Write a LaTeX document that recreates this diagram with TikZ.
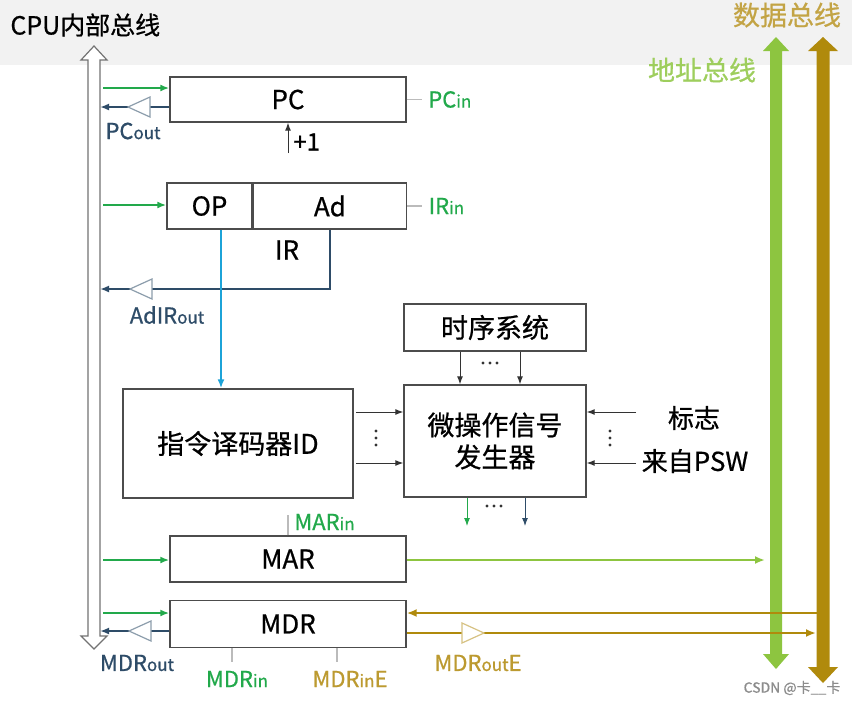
\documentclass[tikz,border=0pt]{standalone}
\usepackage{fontspec}
\setmainfont{Noto Sans CJK SC}[FakeBold=0.7]
\usetikzlibrary{positioning,arrows.meta}

\definecolor{busgreen}{HTML}{8DC540}
\definecolor{busolive}{HTML}{B08A0C}
\definecolor{sigolive}{HTML}{BC9A30}
\definecolor{ingreen}{HTML}{22A94B}
\definecolor{outblue}{HTML}{2E4C68}
\definecolor{opcyan}{HTML}{1CA3D8}
\definecolor{tickgray}{HTML}{BBBBBB}

\newcommand{\sig}[3]{#1{\fontsize{8.5}{9}\selectfont #2}#3}

\begin{document}
\begin{tikzpicture}[x=0.5pt,y=-0.5pt,
    reg/.style={draw=black!70,line width=0.7pt,fill=white,inner sep=0pt,font=\fontsize{13}{15}\selectfont},
    unit/.style={draw=black!70,line width=0.7pt,fill=white,inner sep=0pt,align=center,font=\fontsize{13.5}{16}\selectfont},
    lbl/.style={inner sep=0pt,font=\fontsize{11}{13}\selectfont},
    inarrow/.style={draw=ingreen,line width=1pt,-{Latex[length=4.5pt,width=3.5pt]}},
    outarrow/.style={draw=outblue,line width=1.2pt,-{Latex[length=4.5pt,width=3.5pt]}},
    datarrow/.style={draw=busolive,line width=1.4pt,-{Latex[length=5pt,width=4pt]}},
    ctrl/.style={draw=black!80,line width=0.5pt,-{Latex[length=4pt,width=3pt]}},
    tick/.style={draw=tickgray,line width=0.6pt},
    buf/.pic={\draw[line width=0.6pt,fill=white] (0,0) -- (22,-10) -- (22,10) -- cycle;}
]
% background
\useasboundingbox (0,0) rectangle (852,703);
\fill[white] (0,0) rectangle (852,703);
\fill[black!5] (0,0) rectangle (852,65);

% buses
\draw[draw=black!55,line width=0.6pt,fill=white]
  (88,60) -- (81,60) -- (94,46) -- (107,60) -- (100,60) -- (100,636)
  -- (107,636) -- (94,649) -- (81,636) -- (88,636) -- cycle;
\fill[busgreen] (770,51) -- (763,51) -- (776,37) -- (789,51) -- (782,51) -- (782,654)
  -- (789,654) -- (776,669) -- (763,654) -- (770,654) -- cycle;
\fill[busolive] (816.5,51) -- (808,51) -- (823,37) -- (838,51) -- (829.5,51) -- (829.5,667)
  -- (838,667) -- (823,683) -- (808,667) -- (816.5,667) -- cycle;

\node[anchor=west,inner sep=0pt,font=\fontsize{12.5}{14}\selectfont] (cpubus) at (10,25) {CPU内部总线};
\node[inner sep=0pt,text=busgreen!85,font=\fontsize{13.5}{15}\selectfont] (abusl) at (702,70) {地址总线};
\node[inner sep=0pt,text=sigolive!90,font=\fontsize{13.5}{15}\selectfont] (dbusl) at (787,15) {数据总线};

% registers
\node[reg,minimum width=118pt,minimum height=22.5pt] (pc) at (288,99.5) {PC};
\node[reg,minimum width=42.5pt,minimum height=23pt] (op) at (209.5,206) {OP};
\node[reg,minimum width=76.5pt,minimum height=23pt,right=0pt of op] (ad) {Ad};
\node[inner sep=0pt,font=\fontsize{13}{15}\selectfont] (irl) at (287,250) {IR};
\node[unit,minimum width=115pt,minimum height=54.5pt] (id) at (238,443.5) {指令译码器ID};
\node[unit,minimum width=91pt,minimum height=23.5pt] (timing) at (495,327.5) {时序系统};
\node[unit,minimum width=91pt,minimum height=56pt] (mog) at (495,441) {微操作信号\\发生器};
\node[reg,minimum width=118pt,minimum height=23pt] (mar) at (288,559) {MAR};
\node[reg,minimum width=118pt,minimum height=23.5pt,below=8.5pt of mar] (mdr) {MDR};

% bus connection points
\coordinate (pcin) at (103,88);
\coordinate (pcout) at (100,107);
\coordinate (irin) at (103,205);
\coordinate (adout) at (100,289);
\coordinate (marin) at (103,560);
\coordinate (mdrin) at (103,613);
\coordinate (mdrout) at (100,631);
\coordinate (abus) at (765,560);
\coordinate (dbusin) at (817,613);
\coordinate (dbusout) at (816,633);

% CPU internal bus transfers
\draw[inarrow] (pcin) -- (pcin -| pc.west);
\draw[outarrow] (pcout -| pc.west) -- (pcout);
\pic[draw=outblue!55] at (128,107) {buf};
\draw[inarrow] (irin) -- (irin -| op.west);
\draw[outarrow] (ad.south) |- (adout);
\pic[draw=outblue!55] at (130,289) {buf};
\draw[inarrow] (marin) -- (marin -| mar.west);
\draw[inarrow] (mdrin) -- (mdrin -| mdr.west);
\draw[outarrow] (mdrout -| mdr.west) -- (mdrout);
\pic[draw=outblue!55] at (129,631) {buf};

% opcode to decoder
\coordinate[xshift=5.75pt] (opd) at (op.south);
\draw[draw=opcyan,line width=1.2pt,-{Latex[length=4.5pt,width=3.5pt]}] (opd) -- (opd |- id.north);

% PC increment
\coordinate (inc) at (288,153);
\draw[ctrl] (inc) -- (inc |- pc.south);
\node[anchor=west,inner sep=0pt,font=\fontsize{12}{14}\selectfont] (incl) at (293,142) {+1};

% control unit
\draw[ctrl] ([xshift=-17.5pt]timing.south) -- ([xshift=-17.5pt]mog.north);
\draw[ctrl] ([xshift=12.5pt]timing.south) -- ([xshift=12.5pt]mog.north);
\coordinate (ida) at (356,412);
\coordinate (idb) at (356,463);
\draw[ctrl] (ida) -- (ida -| mog.west);
\draw[ctrl] (idb) -- (idb -| mog.west);
\coordinate (flga) at (636,412);
\coordinate (flgb) at (636,463);
\draw[ctrl] (flga) -- (flga -| mog.east);
\draw[ctrl] (flgb) -- (flgb -| mog.east);
\node[inner sep=0pt,font=\fontsize{13}{15}\selectfont] (flag) at (694,418) {标志};
\node[inner sep=0pt,font=\fontsize{13}{15}\selectfont] (psw) at (695,461) {来自PSW};
\coordinate (moga) at (467,526);
\coordinate (mogb) at (525,526);
\draw[ctrl,draw=ingreen] (moga |- mog.south) -- (moga);
\draw[ctrl,draw=outblue] (mogb |- mog.south) -- (mogb);
% dots
\foreach \d in {0,7,14} {
  \fill[black!80] (483+\d,363) circle (1.6);
  \fill[black!80] (487+\d,506) circle (1.6);
  \fill[black!80] (376,431+\d) circle (1.6);
  \fill[black!80] (610,431+\d) circle (1.6);
}

% system bus transfers
\draw[draw=busgreen,line width=1pt,-{Latex[length=5pt,width=4pt]}] (mar.east |- abus) -- (abus);
\draw[datarrow] (dbusin) -- (dbusin -| mdr.east);
\draw[datarrow] (mdr.east |- dbusout) -- (dbusout);
\pic[draw=sigolive!60,rotate=180] at (484,633) {buf};

% control signal ticks
\draw[tick] (pc.east) -- ++(15,0) node[lbl,right=3pt,text=ingreen] (pcinl) {\sig{PC}{in}{}};
\draw[tick] (ad.east) -- ++(15,0) node[lbl,right=3pt,text=ingreen] (irinl) {\sig{IR}{in}{}};
\draw[tick] (mar.north) -- ++(0,-20);
\node[lbl,anchor=west,text=ingreen] (marinl) at (294,522) {\sig{MAR}{in}{}};
\coordinate (mdrint) at (232,662);
\coordinate (mdrinet) at (337,662);
\draw[tick] (mdrint |- mdr.south) -- (mdrint);
\draw[tick] (mdrinet |- mdr.south) -- (mdrinet);
\node[lbl,text=ingreen] (mdrinl) at (237,679) {\sig{MDR}{in}{}};
\node[lbl,text=sigolive] (mdrinel) at (350,679) {\sig{MDR}{in}{E}};

% signal labels
\node[lbl,text=outblue] (pcoutl) at (133,131) {\sig{PC}{out}{}};
\node[lbl,text=outblue] (adoutl) at (167,315) {\sig{AdIR}{out}{}};
\node[lbl,text=outblue] (mdroutl) at (137,663) {\sig{MDR}{out}{}};
\node[lbl,text=sigolive] (mdroutel) at (478,663) {\sig{MDR}{out}{E}};

\node[inner sep=0pt,text=black!45,font=\fontsize{7}{8}\selectfont] (mark) at (792,688) {CSDN @卡\_\_卡};
\end{tikzpicture}
\end{document}
